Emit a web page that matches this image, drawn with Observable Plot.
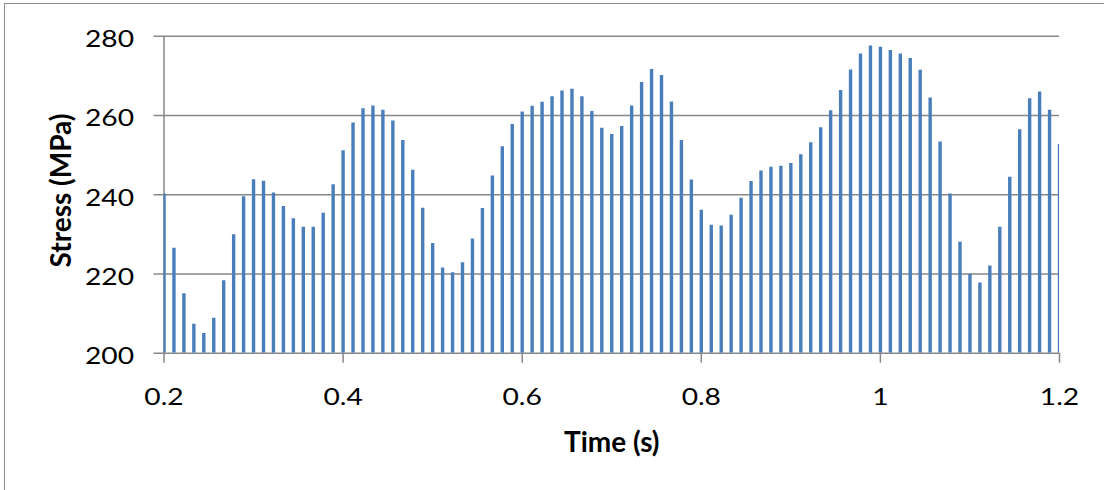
<!DOCTYPE html>
<html>
<head>
<meta charset="utf-8">
<script src="https://cdn.jsdelivr.net/npm/d3@7"></script>
<script src="https://cdn.jsdelivr.net/npm/@observablehq/plot@0.6"></script>
<style>
  html, body { margin: 0; padding: 0; background: #fff; overflow: hidden; }
  #wrap { position: relative; width: 1104px; height: 490px; }
  #frame { position: absolute; left: 4px; top: 3px; width: 1400px; height: 800px; border: 1px solid #8c8c8c; box-sizing: border-box; }
  #chart { position: absolute; left: 0; top: 0; }
</style>
</head>
<body>
<div id="wrap"><div id="frame"></div><div id="chart"></div></div>
<script>
// Stress peaks (MPa), one per load cycle, sampled every 1/90 s from t = 0.2 s
const startTime = 0.2;
const period = 1 / 90;
const stressPeaks = [
  240.2,
  226.5, 215.0, 207.3, 205.0, 208.8, 218.3, 229.9, 239.5, 243.8, 243.4,
  240.4, 237.0, 233.9, 231.8, 231.8, 235.3, 242.5, 251.1, 258.1, 261.7, 262.4,
  261.3, 258.6, 253.7, 246.2, 236.6, 227.7, 221.5, 220.3, 222.8, 228.8, 236.5,
  244.7, 252.1, 257.7, 260.9, 262.3, 263.3, 264.7, 266.2, 266.6, 264.7, 261.0,
  256.8, 255.2, 257.2, 262.4, 268.3, 271.6, 270.1, 263.4, 253.7, 243.7, 236.1,
  232.3, 232.1, 234.8, 239.1, 243.3, 246.0, 246.9, 247.2, 247.9, 250.1, 253.1, 256.9,
  261.2, 266.3, 271.5, 275.5, 277.5, 277.2, 276.4, 275.5, 274.4, 271.4, 264.4,
  253.3, 240.2, 228.0, 219.9, 217.7, 222.0, 231.8, 244.4, 256.4, 264.2, 265.9,
  261.3, 252.7
];
const baseline = 200;
const xTicks = [0.2, 0.4, 0.6, 0.8, 1, 1.2];
const yTicks = [200, 220, 240, 260, 280];
const xTitle = "Time (s)";
const yTitle = "Stress (MPa)";

const data = stressPeaks.map((v, i) => ({t: startTime + i * period, v}));

const gray = "#878787";
const blue = "#4a7ebb";

const chart = Plot.plot({
  width: 1104,
  height: 490,
  marginLeft: 163.5,
  marginRight: 45,
  marginTop: 35.7,
  marginBottom: 137.3,
  x: {domain: [0.2, 1.2]},
  y: {domain: [200, 280]},
  style: {fontFamily: "Lato", fontSize: "23.5px", background: "transparent", color: "#000", overflow: "visible"},
  marks: [
    Plot.ruleY(yTicks, {stroke: gray, strokeWidth: 1.5, insetLeft: -10}),
    Plot.ruleX([0.2], {stroke: gray, strokeWidth: 1.5}),
    Plot.axisY(yTicks, {tickSize: 0, tickPadding: 30, dy: 3.5, fill: "#000", label: null, tickFormat: d => String(d)}),
    Plot.axisX(xTicks, {tickSize: 10, tickPadding: 25, stroke: gray, strokeWidth: 1.5, fill: "#000", label: null, tickFormat: d => String(d)}),
    Plot.ruleX(data, {x: "t", y1: baseline, y2: "v", stroke: blue, strokeWidth: 3.4, clip: true}),
    Plot.text([xTitle], {frameAnchor: "bottom", lineAnchor: "middle", dy: 90, fontWeight: "bold", fontSize: 28, fill: "#000", ariaLabel: "x-title"}),
    Plot.text([yTitle], {frameAnchor: "left", textAnchor: "middle", lineAnchor: "middle", rotate: -90, dx: -101.5, dy: -4.2, fontWeight: "bold", fontSize: 28, fill: "#000", ariaLabel: "y-title"})
  ]
});
document.getElementById("chart").appendChild(chart);

// widen glyphs horizontally to match the reference's proportions
function scaleTexts(selector, sx, sy) {
  d3.select(chart).selectAll(selector).each(function () {
    const tr = this.getAttribute("transform");
    if (tr) this.setAttribute("transform", tr + ` scale(${sx},${sy})`);
  });
}
scaleTexts('g[aria-label*="y-axis tick label"] text', 1.2, 1);
scaleTexts('g[aria-label*="x-axis tick label"] text', 1.2, 1);
scaleTexts('g[aria-label="x-title"] text', 1.09, 1);
scaleTexts('g[aria-label="y-title"] text', 1.097, 0.9);
</script>
</body>
</html>
